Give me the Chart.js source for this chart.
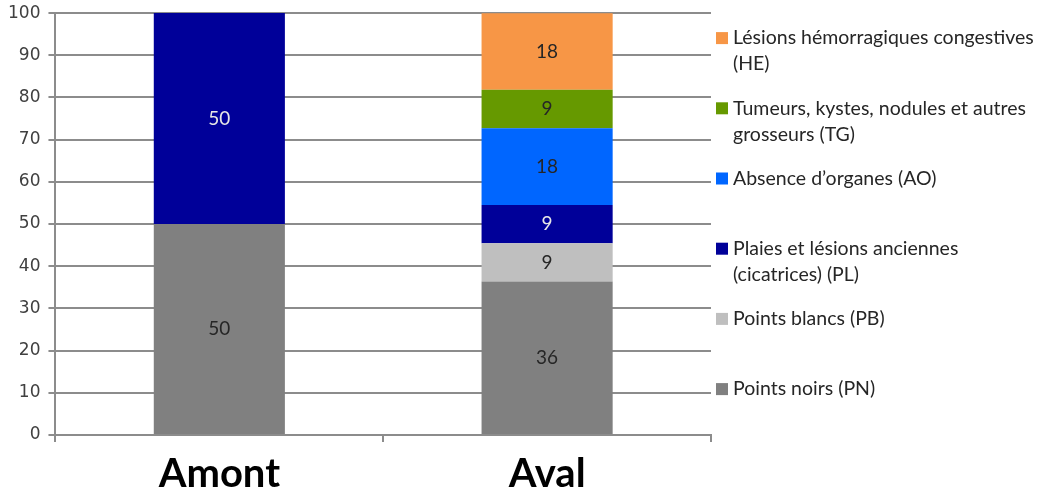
<!DOCTYPE html>
<html lang="fr">
<head>
<meta charset="utf-8"/>
<title>Lésions observées - Amont / Aval</title>
<script src="https://cdn.jsdelivr.net/npm/chart.js@4.4.1/dist/chart.umd.min.js"></script>
<style>
  html, body { margin: 0; padding: 0; background: #fff; }
  #wrap { position: relative; width: 1038px; height: 498px; }
</style>
</head>
<body>
<div id="wrap"><canvas id="graph"></canvas></div>
<script>
// stations
const categories = ['Amont', 'Aval'];

// pourcentages par type de lésion
const pointsNoirs = [50, 36.36];
const pointsBlancs = [null, 9.09];
const plaies = [50, 9.09];
const absenceOrganes = [null, 18.18];
const tumeurs = [null, 9.09];
const hemorragiques = [null, 18.18];

const yTicks = [0, 10, 20, 30, 40, 50, 60, 70, 80, 90, 100];

// libellés de la légende (une entrée par ligne)
const legendNames = [
    ['Points noirs (PN)'],
    ['Points blancs (PB)'],
    ['Plaies et lésions anciennes', '(cicatrices) (PL)'],
    ['Absence d\u2019organes (AO)'],
    ['Tumeurs, kystes, nodules et autres', 'grosseurs (TG)'],
    ['Lésions hémorragiques congestives', '(HE)']
];

const couleurs = ['#808080', '#bfbfbf', '#000099', '#0066ff', '#669900', '#f79646'];
const couleursTexte = ['#262626', '#262626', '#e6e6e6', '#262626', '#262626', '#262626'];

const series = [pointsNoirs, pointsBlancs, plaies, absenceOrganes, tumeurs, hemorragiques];

const datasets = series.map(function (s, i) {
    return {
        label: legendNames[i].join(' '),
        data: s,
        backgroundColor: couleurs[i],
        borderWidth: 0,
        categoryPercentage: 1.0,
        barPercentage: 0.4
    };
});

// valeurs au centre de chaque segment
const etiquettes = {
    id: 'etiquettes',
    afterDatasetsDraw(chart) {
        const ctx = chart.ctx;
        ctx.save();
        ctx.font = '19px Lato';
        ctx.textAlign = 'center';
        ctx.textBaseline = 'middle';
        chart.data.datasets.forEach(function (ds, i) {
            const meta = chart.getDatasetMeta(i);
            meta.data.forEach(function (bar, j) {
                const v = ds.data[j];
                if (v == null) return;
                const y = (bar.y + bar.base) / 2;
                ctx.fillStyle = couleursTexte[i];
                ctx.fillText(Math.round(v), bar.x, y);
            });
        });
        ctx.restore();
    }
};

// légende à droite, ordre inverse de l'empilement
const legende = {
    id: 'legende',
    afterDraw(chart) {
        const ctx = chart.ctx;
        const area = chart.chartArea;
        const x0 = area.right + 5;
        const pas = 70.2;
        ctx.save();
        ctx.font = '19.5px Lato';
        ctx.textBaseline = 'middle';
        ctx.textAlign = 'left';
        for (let k = 0; k < legendNames.length; k++) {
            const i = legendNames.length - 1 - k;
            const yc = area.top + 25 + k * pas;
            ctx.fillStyle = couleurs[i];
            ctx.fillRect(x0, yc - 6, 12, 12);
            ctx.fillStyle = '#262626';
            legendNames[i].forEach(function (ligne, n) {
                ctx.fillText(ligne, x0 + 17, yc + n * 26);
            });
        }
        ctx.restore();
    }
};

new Chart(document.getElementById('graph'), {
    type: 'bar',
    data: { labels: categories, datasets: datasets },
    options: {
        responsive: true,
        maintainAspectRatio: false,
        animation: false,
        layout: { padding: { left: 0, right: 327, top: 0, bottom: -8 } },
        plugins: {
            legend: { display: false },
            tooltip: { enabled: false }
        },
        scales: {
            x: {
                stacked: true,
                grid: {
                    offset: true,
                    drawOnChartArea: false,
                    tickLength: 7,
                    color: '#8c8c8c',
                    lineWidth: 2
                },
                border: { color: '#8c8c8c', width: 2 },
                ticks: {
                    color: '#000',
                    font: { family: 'Lato', size: 40, weight: 'bold', lineHeight: 1.15 },
                    padding: 9
                }
            },
            y: {
                stacked: true,
                min: 0,
                max: 100,
                afterBuildTicks(axis) {
                    axis.ticks = yTicks.map(function (v) { return { value: v }; });
                },
                grid: {
                    color: '#8c8c8c',
                    lineWidth: 2,
                    tickLength: 7
                },
                border: { color: '#8c8c8c', width: 2 },
                ticks: {
                    color: '#404040',
                    font: { family: 'DejaVu Sans', size: 17, lineHeight: 0.6 },
                    padding: 8
                }
            }
        }
    },
    plugins: [etiquettes, legende]
});
</script>
</body>
</html>
